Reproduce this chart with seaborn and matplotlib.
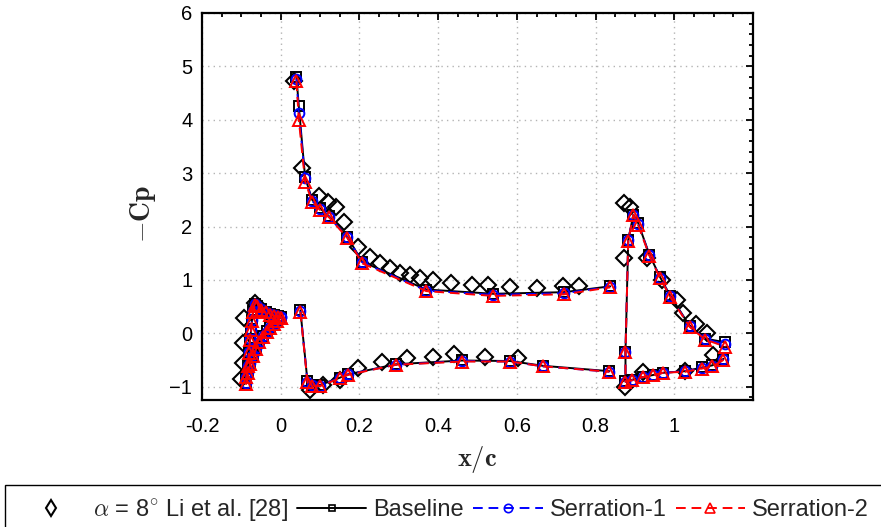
import numpy as np
import pandas as pd
import seaborn as sns
import matplotlib
matplotlib.use("Agg")
import matplotlib.pyplot as plt
from matplotlib.lines import Line2D
from matplotlib.patches import Rectangle
from matplotlib.ticker import MultipleLocator, FixedLocator

# ---------------- data ----------------
# Experimental data (Li et al. [28])
exp_x = [-0.065, -0.093, -0.095, -0.097, -0.102,
         0.034, 0.054, 0.097, 0.120, 0.140, 0.162, 0.197, 0.227, 0.253, 0.278, 0.303,
         0.329, 0.354, 0.387, 0.433, 0.487, 0.527, 0.583, 0.652, 0.718, 0.759,
         0.075, 0.108, 0.151, 0.197, 0.258, 0.321, 0.387, 0.441, 0.520, 0.603,
         0.871, 0.888, 0.871, 0.931, 0.970, 1.008, 1.023, 1.056, 1.084, 1.099,
         0.876, 0.921, 1.028]
exp_y = [0.57, 0.28, -0.18, -0.55, -0.85,
         4.73, 3.09, 2.58, 2.45, 2.36, 2.08, 1.62, 1.42, 1.31, 1.22, 1.13,
         1.09, 1.04, 1.00, 0.94, 0.91, 0.91, 0.87, 0.85, 0.89, 0.89,
         -1.06, -0.97, -0.87, -0.65, -0.54, -0.46, -0.44, -0.39, -0.44, -0.46,
         2.44, 2.37, 1.41, 1.41, 1.00, 0.63, 0.38, 0.18, 0.01, -0.40,
         -1.00, -0.72, -0.70]

# Slat
slat_x = [0.0, -0.008, -0.017, -0.027, -0.038, -0.050, -0.060, -0.066, -0.070, -0.073,
          -0.075, -0.078, -0.081, -0.084, -0.087, -0.088, -0.083, -0.077, -0.070, -0.062,
          -0.054, -0.045, -0.036, -0.027, -0.018, -0.009, 0.0]
slat_base = [0.30, 0.32, 0.34, 0.36, 0.40, 0.45, 0.52, 0.55, 0.42, 0.25,
             0.08, -0.10, -0.35, -0.60, -0.80, -0.93, -0.72, -0.55, -0.40, -0.27,
             -0.15, -0.05, 0.04, 0.12, 0.19, 0.25, 0.30]
slat_s1 = [0.30, 0.32, 0.34, 0.36, 0.40, 0.45, 0.52, 0.54, 0.41, 0.24,
           0.07, -0.11, -0.36, -0.61, -0.81, -0.94, -0.73, -0.56, -0.41, -0.28,
           -0.16, -0.06, 0.03, 0.11, 0.18, 0.24, 0.30]
slat_s2 = [0.29, 0.31, 0.33, 0.35, 0.39, 0.44, 0.51, 0.53, 0.40, 0.23,
           0.06, -0.12, -0.37, -0.62, -0.82, -0.95, -0.74, -0.57, -0.42, -0.29,
           -0.17, -0.07, 0.02, 0.10, 0.17, 0.23, 0.29]

# Main element, upper surface
mu_x = [0.040, 0.046, 0.062, 0.080, 0.100, 0.123, 0.169, 0.207, 0.370, 0.540, 0.720, 0.837]
mu_base = [4.80, 4.25, 2.92, 2.50, 2.34, 2.19, 1.81, 1.34, 0.82, 0.74, 0.77, 0.88]
mu_s1 = [4.77, 4.13, 2.90, 2.48, 2.33, 2.18, 1.80, 1.33, 0.80, 0.72, 0.75, 0.87]
mu_s2 = [4.72, 4.00, 2.84, 2.46, 2.31, 2.17, 1.79, 1.31, 0.79, 0.70, 0.73, 0.86]

# Main element, lower surface
ml_x = [0.050, 0.068, 0.080, 0.100, 0.151, 0.171, 0.293, 0.461, 0.583, 0.667, 0.835]
ml_base = [0.43, -0.90, -0.96, -0.97, -0.83, -0.77, -0.58, -0.51, -0.52, -0.61, -0.71]
ml_s1 = [0.42, -0.91, -0.97, -0.98, -0.83, -0.77, -0.59, -0.52, -0.53, -0.62, -0.72]
ml_s2 = [0.40, -0.92, -0.98, -0.99, -0.84, -0.78, -0.59, -0.53, -0.53, -0.62, -0.72]

# Flap (lower TE -> LE -> upper TE)
fl_x = [1.125, 1.097, 1.071, 1.028, 0.972, 0.947, 0.921, 0.893, 0.876, 0.876,
        0.883, 0.896, 0.908, 0.937, 0.964, 0.990, 1.039, 1.079, 1.130]
fl_base = [-0.48, -0.60, -0.64, -0.71, -0.74, -0.78, -0.82, -0.87, -0.90, -0.35,
           1.75, 2.22, 2.07, 1.47, 1.05, 0.70, 0.14, -0.10, -0.17]
fl_s1 = [-0.49, -0.61, -0.65, -0.71, -0.74, -0.78, -0.82, -0.88, -0.91, -0.35,
         1.74, 2.22, 2.05, 1.46, 1.04, 0.69, 0.13, -0.11, -0.21]
fl_s2 = [-0.50, -0.62, -0.66, -0.72, -0.74, -0.78, -0.82, -0.88, -0.91, -0.36,
         1.73, 2.22, 2.03, 1.45, 1.03, 0.68, 0.12, -0.12, -0.25]

series_names = ["Baseline", "Serration-1", "Serration-2"]
exp_label = r"$\alpha$ = 8$^{\circ}$ Li et al. [28]"
x_ticks = [-0.2, 0, 0.2, 0.4, 0.6, 0.8, 1]
x_ticklabels = ["-0.2", "0", "0.2", "0.4", "0.6", "0.8", "1"]
y_ticks = [-1, 0, 1, 2, 3, 4, 5, 6]


def build(slat_y, mu_y, ml_y, fl_y):
    parts = []
    for seg, (xs, ys) in enumerate([(slat_x, slat_y), (mu_x, mu_y), (ml_x, ml_y), (fl_x, fl_y)]):
        parts.append(pd.DataFrame({"x": xs, "y": ys, "seg": seg}))
    return pd.concat(parts, ignore_index=True)


dfs = {
    "Baseline": build(slat_base, mu_base, ml_base, fl_base),
    "Serration-1": build(slat_s1, mu_s1, ml_s1, fl_s1),
    "Serration-2": build(slat_s2, mu_s2, ml_s2, fl_s2),
}
DASH = (0, (5, 3))
styles = {
    "Baseline": dict(color="black", linestyle="-", marker="s", markersize=7),
    "Serration-1": dict(color="blue", linestyle=DASH, marker="o", markersize=7),
    "Serration-2": dict(color="red", linestyle=DASH, marker="^", markersize=8),
}

# ---------------- plot ----------------
sns.set_theme(style="white")
plt.rcParams["font.family"] = ["Liberation Sans", "DejaVu Sans"]
plt.rcParams["mathtext.fontset"] = "cm"

fig = plt.figure(figsize=(8.81, 5.27), dpi=100)
ax = fig.add_axes([202 / 881, 1 - 400 / 527, (753 - 202) / 881, (400 - 13) / 527])

exp_df = pd.DataFrame({"x": exp_x, "y": exp_y})
sns.lineplot(data=exp_df, x="x", y="y", estimator=None, sort=False, ax=ax,
             linestyle="none", marker="D", markersize=8, markerfacecolor="none",
             markeredgecolor="black", markeredgewidth=1.5, color="black", legend=False)

for name in series_names:
    st = styles[name]
    sns.lineplot(data=dfs[name], x="x", y="y", units="seg", estimator=None, sort=False,
                 ax=ax, color=st["color"], linestyle=st["linestyle"], linewidth=1.4,
                 marker=st["marker"], markersize=st["markersize"], markerfacecolor="none",
                 markeredgecolor=st["color"], markeredgewidth=1.4, legend=False)

ax.set_xlim(-0.2, 1.2)
ax.set_ylim(-1.25, 6)
ax.xaxis.set_major_locator(FixedLocator(x_ticks))
ax.set_xticklabels(x_ticklabels)
ax.yaxis.set_major_locator(FixedLocator(y_ticks))
ax.xaxis.set_minor_locator(MultipleLocator(0.05))
ax.yaxis.set_minor_locator(MultipleLocator(0.2))
ax.tick_params(which="both", direction="in", top=True, right=True, width=1.3, colors="black")
ax.tick_params(which="major", length=5)
ax.tick_params(which="minor", length=3)
ax.tick_params(axis="x", which="major", labelsize=14.5, pad=12)
ax.tick_params(axis="y", which="major", labelsize=14.5, pad=7)
for sp in ax.spines.values():
    sp.set_linewidth(1.6)
    sp.set_color("black")
ax.grid(True, which="major", linestyle=(0, (1, 3)), color="#b4b4b4", linewidth=1.0)
ax.set_xlabel(r"$\mathbf{x/c}$", fontsize=19, labelpad=6)
ax.set_ylabel(r"$\mathbf{-Cp}$", fontsize=20, labelpad=6)
ax.yaxis.set_label_coords(-0.08, 0.48)

# legend
handles = [
    Line2D([], [], linestyle="none", marker="d", markersize=8, markerfacecolor="none",
           markeredgecolor="black", markeredgewidth=1.5),
    Line2D([], [], color="black", linestyle="-", linewidth=1.4, marker="s", markersize=5,
           markerfacecolor="none", markeredgecolor="black", markeredgewidth=1.2),
    Line2D([], [], color="blue", linestyle=DASH, linewidth=1.4, marker="o", markersize=6,
           markerfacecolor="none", markeredgecolor="blue", markeredgewidth=1.2),
    Line2D([], [], color="red", linestyle=DASH, linewidth=1.4, marker="^", markersize=7,
           markerfacecolor="none", markeredgecolor="red", markeredgewidth=1.2),
]
labels = [exp_label] + series_names
fig.legend(handles, labels, loc="center left", bbox_to_anchor=(16 / 881, 1 - 510 / 527),
           ncol=4, frameon=False, fontsize=17, handlelength=2.95, handletextpad=0.3,
           columnspacing=0.38, borderpad=0, borderaxespad=0)
fig.patches.append(Rectangle((5 / 881, -0.05), 1.0, 0.05 + (527 - 485) / 527,
                             transform=fig.transFigure, fill=False, edgecolor="black",
                             linewidth=1.0, clip_on=False))

fig.savefig("out.png", dpi=100)
